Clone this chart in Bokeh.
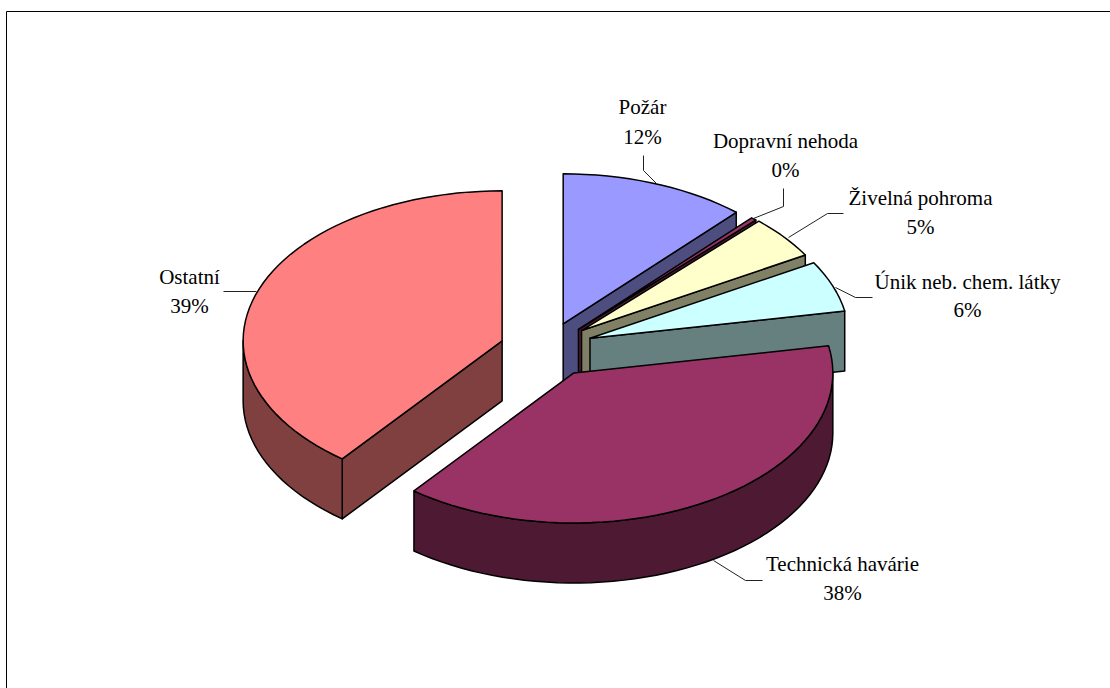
import math
from bokeh.core.properties import value
from bokeh.embed import file_html
from bokeh.models import ColumnDataSource
from bokeh.plotting import figure
from bokeh.resources import INLINE

categories = ["Požár", "Dopravní nehoda", "Živelná pohroma", "Únik neb. chem. látky", "Technická havárie", "Ostatní"]
shares = [11.65, 0.35, 4.6, 5.5, 38.49, 39.41]
top_colors = ["#9999FF", "#993366", "#FFFFCC", "#CCFFFF", "#993366", "#FF8080"]
wall_colors = ["#4D4D80", "#4D1933", "#808066", "#668080", "#4D1933", "#804040"]

# label anchors: centre x, y of the name row, y of the percentage row
label_x = [642, 785, 920, 967, 842, 189]
name_y = [106, 140, 197, 281, 563, 276]
pct_y = [136, 169, 226, 309, 592, 305]

# leader polylines, one per label
leader_x = [[643, 643, 656], [783, 783, 753], [843, 827, 788], [872, 855, 835], [762, 745, 713], [223, 256]]
leader_y = [[155, 170, 183], [188, 206, 218], [213, 213, 237], [297, 297, 287], [580, 580, 560], [291, 291]]

# projected pie geometry, in page pixels
CX, CY = 546.5, 349.5
RX, RY = 259, 150
DEPTH = 60
EXPLODE_X, EXPLODE_Y = 48, 28
# small per-slice corrections to the exploded position
shift_x = [-1, -1, -3, -2, 2, 0.5]
shift_y = [0, 0, -2, -2, -1, 0]


def rim(cx, cy, a0, a1, dy=0):
    """Points along the elliptical rim, angles clockwise from north, in degrees."""
    n = max(2, int(abs(a1 - a0) / 2.5) + 1)
    pts = []
    for i in range(n + 1):
        t = math.radians(a0 + (a1 - a0) * i / n)
        pts.append((cx + RX * math.sin(t), cy - RY * math.cos(t) + dy))
    return pts


p = figure(width=1110, height=688, x_range=(0, 1110), y_range=(688, 0),
           output_backend="svg", toolbar_location=None, min_border=0)
p.axis.visible = False
p.grid.visible = False
p.outline_line_color = None
p.background_fill_color = "white"
p.border_fill_color = "white"

# frame: only the top and left edges lie inside the page
p.line([6, 6, 1110], [688, 11, 11], line_color="black", line_width=1)

xs_patch, ys_patch, fills = [], [], []


def add(points, colour):
    xs_patch.append([q[0] for q in points])
    ys_patch.append([q[1] for q in points])
    fills.append(colour)


total = sum(shares)
start = 0.0
for share, top, wall, dx, dy in zip(shares, top_colors, wall_colors, shift_x, shift_y):
    end = start + 360 * share / total
    mid = math.radians((start + end) / 2)
    cx = CX + EXPLODE_X * math.sin(mid) + dx
    cy = CY - EXPLODE_Y * math.cos(mid) + dy

    # radial cut faces that turn toward the viewer
    for angle, visible in ((start, math.sin(math.radians(start)) < -1e-6),
                           (end, math.sin(math.radians(end)) > 1e-6)):
        if visible:
            e = rim(cx, cy, angle, angle)[0]
            add([(cx, cy), e, (e[0], e[1] + DEPTH), (cx, cy + DEPTH)], wall)

    # outer wall, on the near half of the rim only
    lo, hi = max(start, 90), min(end, 270)
    if lo < hi:
        add(rim(cx, cy, lo, hi) + rim(cx, cy, hi, lo, DEPTH), wall)

    add([(cx, cy)] + rim(cx, cy, start, end), top)
    start = end

p.patches(xs_patch, ys_patch, fill_color=fills, line_color="black", line_width=1.5, line_join="round")

p.multi_line(leader_x, leader_y, line_color="#222222", line_width=1)

labels = ColumnDataSource(dict(
    x=label_x, name_y=name_y, pct_y=pct_y, name=categories,
    pct=[f"{round(v)}%" for v in shares],
))
for column, y in (("name", "name_y"), ("pct", "pct_y")):
    p.text(x="x", y=y, text=column, source=labels, text_align="center", text_baseline="middle",
           text_font=value("Liberation Serif"), text_font_size="21px", text_color="black")

open("out.html", "w").write(file_html(p, INLINE))
